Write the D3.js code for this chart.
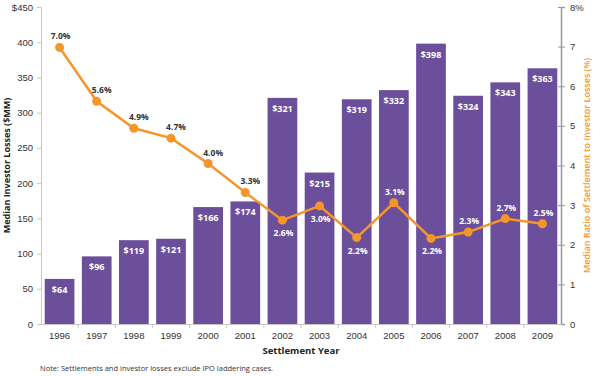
<!DOCTYPE html>
<html>
<head>
<meta charset="utf-8">
<script src="https://cdn.jsdelivr.net/npm/d3@7"></script>
<style>
  body { margin: 0; background: #fff; }
  svg { font-family: "Open Sans", "Noto Sans", sans-serif; }
</style>
</head>
<body>
<figure id="chart" style="margin:0"></figure>
<script>
// data
const years = ["1996","1997","1998","1999","2000","2001","2002","2003","2004","2005","2006","2007","2008","2009"];
const losses = [64, 96, 119, 121, 166, 174, 321, 215, 319, 332, 398, 324, 343, 363];
const ratios = [6.98, 5.62, 4.94, 4.69, 4.05, 3.32, 2.62, 2.98, 2.18, 3.06, 2.16, 2.32, 2.66, 2.53];
// where the ratio label sits: above or below the point
const labelPos = ["up","up","up","up","up","up","down","down","down","up","down","up","up","up"];
const lossTicks = [0, 50, 100, 150, 200, 250, 300, 350, 400, 450];
const ratioTicks = [0, 1, 2, 3, 4, 5, 6, 7, 8];

let dimensions = {
    width: 600,
    height: 376,
    margin: { top: 7, right: 39, bottom: 52, left: 41 },
};
dimensions.boundedWidth = dimensions.width - dimensions.margin.left - dimensions.margin.right;
dimensions.boundedHeight = dimensions.height - dimensions.margin.top - dimensions.margin.bottom;

const purple = "#6c4f9b";
const orange = "#f5962a";

const root = d3.select("figure#chart")
    .append("svg")
    .attr("width", dimensions.width)
    .attr("height", dimensions.height);

const svg = root.append("g")
    .attr("transform", `translate(${dimensions.margin.left}, ${dimensions.margin.top})`);

const xScale = d3.scaleBand()
    .domain(years)
    .range([0, dimensions.boundedWidth])
    .paddingInner(0.2)
    .paddingOuter(0.1);

const yScale = d3.scaleLinear()
    .domain([0, 450])
    .range([dimensions.boundedHeight, 0]);

const y2Scale = d3.scaleLinear()
    .domain([0, 8])
    .range([dimensions.boundedHeight, 0]);

const cx = d => xScale(d) + xScale.bandwidth() / 2;

// bars
svg.selectAll("rect.bar")
    .data(years)
    .enter()
    .append("rect")
    .attr("class", "bar")
    .attr("x", d => xScale(d))
    .attr("y", (d, i) => yScale(losses[i]))
    .attr("width", xScale.bandwidth())
    .attr("height", (d, i) => dimensions.boundedHeight - yScale(losses[i]))
    .attr("fill", purple);

svg.selectAll("text.barlabel")
    .data(years)
    .enter()
    .append("text")
    .attr("class", "barlabel")
    .attr("x", d => cx(d))
    .attr("y", (d, i) => yScale(losses[i]) + 14)
    .attr("text-anchor", "middle")
    .attr("fill", "#fff")
    .attr("font-size", 9)
    .attr("font-weight", "bold")
    .text((d, i) => "$" + losses[i]);

// left axis
const yAxis = svg.append("g")
    .call(d3.axisLeft(yScale).tickValues(lossTicks).tickSize(4).tickPadding(4)
        .tickFormat(d => d === 450 ? "$450" : d));
yAxis.select(".domain").attr("stroke", "#c8c8c8");
yAxis.selectAll(".tick line").attr("stroke", "#c8c8c8");
yAxis.selectAll("text").attr("font-size", 9.5).attr("fill", "#333");

// right axis
const y2Axis = svg.append("g")
    .attr("transform", `translate(${dimensions.boundedWidth}, 0)`)
    .call(d3.axisRight(y2Scale).tickValues(ratioTicks).tickSize(4).tickPadding(5)
        .tickFormat(d => d === 8 ? "8%" : d));
y2Axis.select(".domain").attr("stroke", "#999").attr("stroke-width", 1.5);
y2Axis.selectAll(".tick line").attr("stroke", "#999").attr("x1", -3);
y2Axis.selectAll("text").attr("font-size", 9.5).attr("fill", "#333");

// bottom axis: ticks between categories
const xAxis = svg.append("g")
    .attr("transform", `translate(0, ${dimensions.boundedHeight})`)
    .call(d3.axisBottom(xScale).tickSize(0).tickPadding(8));
xAxis.select(".domain").attr("stroke", "#c8c8c8");
xAxis.selectAll("text").attr("font-size", 9.5).attr("fill", "#333");
xAxis.selectAll("line.sep")
    .data(years.slice(1))
    .enter()
    .append("line")
    .attr("class", "sep")
    .attr("x1", d => xScale(d) - xScale.step() * xScale.paddingInner() / 2)
    .attr("x2", d => xScale(d) - xScale.step() * xScale.paddingInner() / 2)
    .attr("y1", 0)
    .attr("y2", 4)
    .attr("stroke", "#c8c8c8");

// ratio line
const line = d3.line()
    .x((d, i) => cx(years[i]))
    .y(d => y2Scale(d));

svg.append("path")
    .datum(ratios)
    .attr("d", line)
    .attr("fill", "none")
    .attr("stroke", orange)
    .attr("stroke-width", 2.5);

svg.selectAll("circle.pt")
    .data(ratios)
    .enter()
    .append("circle")
    .attr("class", "pt")
    .attr("cx", (d, i) => cx(years[i]))
    .attr("cy", d => y2Scale(d))
    .attr("r", 4.5)
    .attr("fill", orange);

// labels on the falling part of the line are nudged right, clear of the line
svg.selectAll("text.ratiolabel")
    .data(ratios)
    .enter()
    .append("text")
    .attr("class", "ratiolabel")
    .attr("x", (d, i) => cx(years[i]) + (i >= 1 && i <= 5 ? 5 : 1))
    .attr("y", (d, i) => labelPos[i] === "up" ? y2Scale(d) - 8 : y2Scale(d) + 16)
    .attr("text-anchor", "middle")
    .attr("font-size", 8.5)
    .attr("font-weight", "bold")
    .attr("fill", (d, i) => {
        const ly = labelPos[i] === "up" ? y2Scale(d) - 12 : y2Scale(d) + 12;
        return ly > yScale(losses[i]) ? "#fff" : "#333";
    })
    .text(d => d.toFixed(1) + "%");

// titles
root.append("text")
    .attr("transform", `translate(10, ${dimensions.margin.top + dimensions.boundedHeight / 2}) rotate(-90)`)
    .attr("text-anchor", "middle")
    .attr("font-size", 9)
    .attr("font-weight", "bold")
    .attr("fill", "#222")
    .text("Median Investor Losses ($MM)");

root.append("text")
    .attr("transform", `translate(590, ${dimensions.margin.top + dimensions.boundedHeight / 2}) rotate(-90)`)
    .attr("text-anchor", "middle")
    .attr("font-size", 9)
    .attr("font-weight", 600)
    .attr("fill", orange)
    .text("Median Ratio of Settlement to Investor Losses (%)");

root.append("text")
    .attr("x", dimensions.margin.left + dimensions.boundedWidth / 2)
    .attr("y", 354)
    .attr("text-anchor", "middle")
    .attr("font-size", 9.5)
    .attr("font-weight", "bold")
    .attr("fill", "#222")
    .text("Settlement Year");

root.append("text")
    .attr("x", 40)
    .attr("y", 371)
    .attr("font-size", 7.5)
    .attr("fill", "#333")
    .text("Note: Settlements and investor losses exclude IPO laddering cases.");
</script>
</body>
</html>
